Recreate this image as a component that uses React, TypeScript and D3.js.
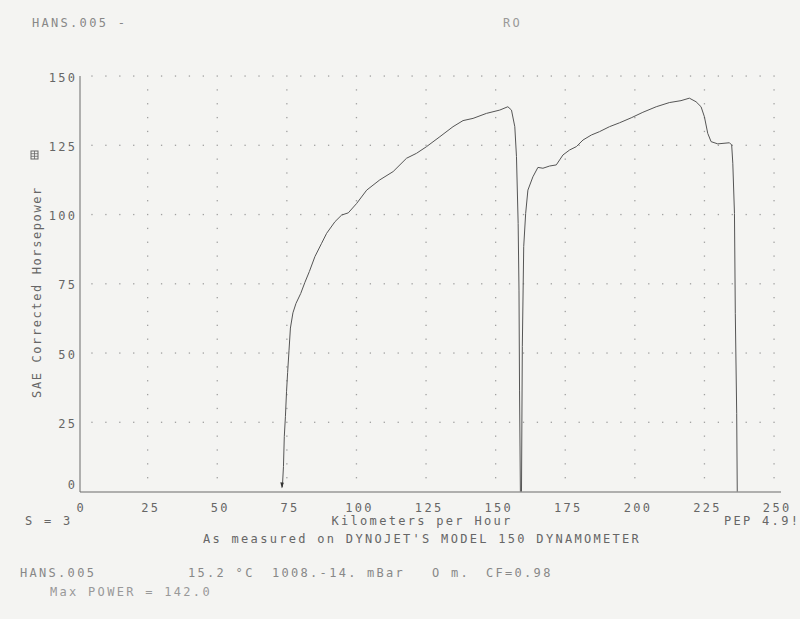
import React from "react";
import * as d3 from "d3";

// ---- data ----
const run1Speed = [73.4, 73.8, 74.1, 74.5, 74.9, 75.3, 75.8, 76.3, 77.2, 78.3, 80.0, 81.5, 83.1, 85.1, 87.5, 89.3, 92.3, 94.7, 97.1, 100.1, 103.7, 108.4, 113.2, 118.0, 121.6, 125.2, 130.0, 134.7, 138.3, 141.9, 146.7, 151.5, 154.4, 155.7, 156.9, 157.5, 158.1, 158.4, 158.6, 158.9];
const run1Power = [1.5, 9, 19.8, 27, 36, 43, 51, 59, 64.5, 67.9, 71.5, 75.5, 79.4, 84.8, 89.6, 93.2, 97.4, 99.8, 100.6, 104.0, 108.8, 112.5, 115.5, 120.3, 122.1, 124.5, 128.1, 131.7, 133.9, 134.7, 136.5, 137.7, 138.9, 137.7, 131.7, 120.9, 96.8, 72.7, 36.6, 0];
const run2Speed = [159.3, 159.6, 160.1, 160.8, 161.6, 163.4, 165.2, 167.0, 169.4, 171.8, 173.0, 174.2, 176.6, 179.0, 181.4, 184.4, 187.3, 190.9, 194.5, 198.7, 202.9, 207.7, 212.4, 216.6, 219.6, 222.0, 223.8, 225.0, 226.2, 227.4, 229.8, 234.0, 234.8, 235.2, 235.8, 236.1, 236.6, 236.8];
const run2Power = [0, 52.3, 88.4, 100.4, 108.8, 113.6, 117.0, 116.7, 117.5, 117.9, 119.7, 121.5, 123.3, 124.5, 126.9, 128.7, 129.9, 131.7, 133.1, 134.9, 136.9, 138.9, 140.4, 141.1, 142.0, 140.7, 138.9, 135.3, 129.3, 126.3, 125.5, 125.9, 125.1, 118.5, 100.4, 64.3, 28.2, 0];
const xTicks = [0, 25, 50, 75, 100, 125, 150, 175, 200, 225, 250];
const yTicks = [0, 25, 50, 75, 100, 125, 150];

const W = 800;
const H = 619;
const FONT = "'DejaVu Sans Mono', 'Liberation Mono', monospace";
const LS = 2.3;

export default function App() {
  const x = d3.scaleLinear().domain([0, 250]).range([78, 774]);
  const y = d3.scaleLinear().domain([0, 150]).range([491.5, 76]);

  const line = d3
    .line<[number, number]>()
    .x((d) => x(d[0]))
    .y((d) => y(d[1]))
    .curve(d3.curveLinear);

  const run1 = run1Speed.map((s, i) => [s, run1Power[i]] as [number, number]);
  const run2 = run2Speed.map((s, i) => [s, run2Power[i]] as [number, number]);

  // dotted grid: dots every 5 units along the major lines
  const dots: { cx: number; cy: number }[] = [];
  const fine = d3.range(5, 251, 5);
  const fineY = d3.range(5, 151, 5);
  yTicks
    .filter((t) => t > 0)
    .forEach((t) => {
      fine.forEach((v) => dots.push({ cx: x(v), cy: y(t) }));
    });
  xTicks
    .filter((t) => t > 0)
    .forEach((t) => {
      fineY.forEach((v) => {
        if (v % 25 !== 0) dots.push({ cx: x(t), cy: y(v) });
      });
    });

  const textStyle: React.CSSProperties = { fontFamily: FONT, fontSize: 12, letterSpacing: `${LS}px` };
  const tc = "#666";
  const axisX = 80;
  const axisY = 492;

  const arrowTip = run1[0];

  return (
    <svg
      width={W}
      height={H}
      viewBox={`0 0 ${W} ${H}`}
      style={{ position: "absolute", left: 0, top: 0, background: "#f4f4f2" }}
    >
      <rect x={0} y={0} width={W} height={H} fill="#f4f4f2" />

      {/* header */}
      <text x={32} y={27} fill="#888" style={textStyle}>HANS.005 -</text>
      <text x={503} y={27} fill="#999" style={textStyle}>RO</text>

      {/* grid dots */}
      {dots.map((d, i) => (
        <rect key={i} x={d.cx - 0.6} y={d.cy - 0.6} width={1.3} height={1.3} fill="#a0a0a0" />
      ))}

      {/* axes */}
      <line x1={axisX} y1={y(150)} x2={axisX} y2={axisY} stroke="#6a6a6a" strokeWidth={1} />
      <line x1={axisX} y1={axisY} x2={781} y2={axisY} stroke="#6a6a6a" strokeWidth={1} />

      {/* y tick labels */}
      {yTicks.map((t) => (
        <text
          key={t}
          x={75 + LS}
          y={Math.min(y(t) + 5.5, 489)}
          textAnchor="end"
          fill={tc}
          style={textStyle}
        >
          {t}
        </text>
      ))}

      {/* x tick labels */}
      {xTicks.map((t) => (
        <text key={t} x={x(t) + 2 + LS / 2} y={512} textAnchor="middle" fill={tc} style={textStyle}>
          {t}
        </text>
      ))}

      {/* y axis title */}
      <text
        transform="translate(41,292) rotate(-90)"
        textAnchor="middle"
        fill={tc}
        style={{ ...textStyle, letterSpacing: "1.6px" }}
      >
        SAE Corrected Horsepower
      </text>
      <g transform="translate(31,151)">
        <rect x={0} y={0} width={7} height={8} fill="none" stroke="#666" strokeWidth={1} />
        <line x1={0} y1={2.7} x2={7} y2={2.7} stroke="#666" strokeWidth={0.8} />
        <line x1={0} y1={5.3} x2={7} y2={5.3} stroke="#666" strokeWidth={0.8} />
        <line x1={3.5} y1={0} x2={3.5} y2={8} stroke="#666" strokeWidth={0.8} />
      </g>

      {/* curves */}
      <path d={line(run1) ?? ""} fill="none" stroke="#555" strokeWidth={1} strokeLinejoin="round" />
      <path d={line(run2) ?? ""} fill="none" stroke="#555" strokeWidth={1} strokeLinejoin="round" />
      <path
        d={`M${x(arrowTip[0]) - 2},${y(arrowTip[1]) - 5} L${x(arrowTip[0]) + 1.5},${y(arrowTip[1]) - 4.5} L${x(arrowTip[0]) - 0.5},${y(arrowTip[1]) + 1} Z`}
        fill="#333"
      />

      {/* bottom texts */}
      <text x={25} y={525} fill={tc} style={textStyle}>S = 3</text>
      <text x={422} y={525} textAnchor="middle" fill={tc} style={textStyle}>Kilometers per Hour</text>
      <text x={724} y={525} fill={tc} style={textStyle}>PEP 4.9!</text>
      <text x={203} y={543} fill={tc} style={textStyle}>As measured on DYNOJET'S MODEL 150 DYNAMOMETER</text>

      <text x={20} y={577} fill="#888" style={textStyle}>HANS.005</text>
      <text x={188} y={577} fill="#888" style={textStyle}>15.2 °C</text>
      <text x={272} y={577} fill="#888" style={textStyle}>1008.-14.</text>
      <text x={367} y={577} fill="#888" style={textStyle}>mBar</text>
      <text x={432} y={577} fill="#888" style={textStyle}>O m.</text>
      <text x={486} y={577} fill="#888" style={textStyle}>CF=0.98</text>
      <text x={50} y={596} fill="#999" style={textStyle}>Max POWER = 142.0</text>
    </svg>
  );
}
